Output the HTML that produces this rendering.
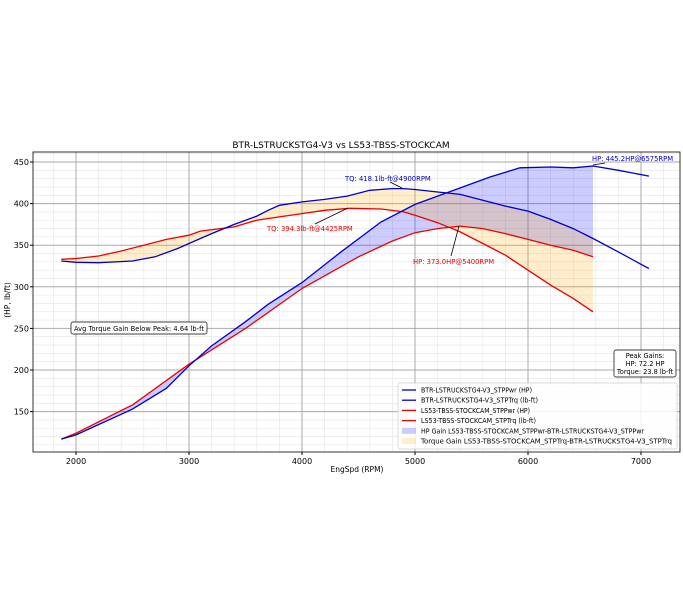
<!DOCTYPE html><html><head><meta charset="utf-8"><style>body{margin:0;background:#fff}svg{display:block;font-family:"DejaVu Sans","Liberation Sans",sans-serif}</style></head><body>
<svg id="s" width="683" height="615" xmlns="http://www.w3.org/2000/svg"></svg>
<script>
const X=r=>76+(r-2000)*0.113, Y=v=>162+(450-v)*0.832;
const L=33,R=680,T=152,B=452;
const bTQ=[[1870,331],[2000,329.5],[2200,329],[2500,331],[2700,336],[2900,346],[3000,352],[3200,364],[3400,375],[3600,385],[3700,392],[3800,398],[4000,402],[4200,405],[4400,409],[4600,416],[4800,418],[4900,418],[5000,417],[5200,414],[5400,411],[5600,404],[5800,397],[6000,391],[6200,381],[6400,370],[6575,358],[6800,342],[7000,327],[7070,322]];
const rTQ=[[1870,333],[2000,334],[2200,337],[2400,343],[2600,350],[2800,357],[3000,362],[3100,367],[3400,372],[3600,380],[3800,384],[4000,388],[4200,392],[4425,394.3],[4700,393.5],[4900,390],[5000,386],[5200,377],[5400,366],[5600,352],[5800,338],[6000,320],[6200,302],[6400,286],[6575,270]];
const rHP=[[1870,117],[2000,124],[2500,158],[3000,207],[3500,250],[4000,298],[4500,336],[4800,355],[5000,365],[5200,370],[5400,373],[5600,370],[5800,364],[6000,357],[6200,350],[6400,344],[6575,336]];
const bHP=[[1870,117],[2000,122],[2500,153],[2800,178],[3000,205],[3200,229],[3500,258],[3700,279],[4000,305],[4336,341],[4700,378],[5000,399],[5300,414],[5664,432],[5929,443],[6200,444],[6400,443],[6575,445.2],[6800,440],[7070,433]];
const pts=a=>a.map(p=>X(p[0]).toFixed(1)+','+Y(p[1]).toFixed(1)).join(' ');
const cut=a=>a.filter(p=>p[0]<=6575);
let h='';
h+=`<rect x="${L}" y="${T}" width="${R-L}" height="${B-T}" fill="#fff"/>`;
for(let r=1800;r<=7200;r+=200){if(r%1000)h+=`<line x1="${X(r)}" x2="${X(r)}" y1="${T}" y2="${B}" stroke="#e4e4e4" stroke-width="0.6"/>`;}
for(let v=110;v<=460;v+=10){if(v%50)h+=`<line x1="${L}" x2="${R}" y1="${Y(v)}" y2="${Y(v)}" stroke="#e4e4e4" stroke-width="0.6"/>`;}
for(let r=2000;r<=7000;r+=1000)h+=`<line x1="${X(r)}" x2="${X(r)}" y1="${T}" y2="${B}" stroke="#aaa" stroke-width="1"/><text x="${X(r)}" y="${B+12}" font-size="8" text-anchor="middle">${r}</text><line x1="${X(r)}" x2="${X(r)}" y1="${B}" y2="${B+3}" stroke="#000"/>`;
for(let v=150;v<=450;v+=50)h+=`<line x1="${L}" x2="${R}" y1="${Y(v)}" y2="${Y(v)}" stroke="#aaa" stroke-width="1"/><text x="${L-4}" y="${Y(v)+3}" font-size="8" text-anchor="end">${v}</text><line x1="${L-3}" x2="${L}" y1="${Y(v)}" y2="${Y(v)}" stroke="#000"/>`;
const fill=(a,b,c)=>`<polygon points="${pts(cut(a))} ${pts(cut(b).slice().reverse())}" fill="${c}"/>`;
h+=fill(bHP,rHP,'rgba(0,0,255,0.2)');
h+=fill(bTQ,rTQ,'rgba(255,165,0,0.2)');
h+=`<polyline points="${pts(rHP)}" fill="none" stroke="#e00" stroke-width="1.3"/><polyline points="${pts(rTQ)}" fill="none" stroke="#e00" stroke-width="1.3"/>`;
h+=`<polyline points="${pts(bHP)}" fill="none" stroke="#0000cc" stroke-width="1.3"/><polyline points="${pts(bTQ)}" fill="none" stroke="#0000cc" stroke-width="1.3"/>`;
h+=`<rect x="${L}" y="${T}" width="${R-L}" height="${B-T}" fill="none" stroke="#000" stroke-width="0.8"/>`;
h+=`<text x="341" y="148" font-size="9" text-anchor="middle">BTR-LSTRUCKSTG4-V3 vs LS53-TBSS-STOCKCAM</text>`;
h+=`<text x="357" y="472" font-size="7.5" text-anchor="middle">EngSpd (RPM)</text>`;
h+=`<text transform="translate(10,300) rotate(-90)" font-size="7.5" text-anchor="middle">(HP, lb/ft)</text>`;
h+=`<text x="345" y="181" font-size="6.8" fill="#0000cc">TQ: 418.1lb-ft@4900RPM</text><line x1="390" y1="182" x2="402" y2="188" stroke="#000" stroke-width="0.8"/>`;
h+=`<text x="267" y="231" font-size="6.8" fill="#e00">TQ: 394.3lb-ft@4425RPM</text><line x1="315" y1="224" x2="348" y2="208" stroke="#000" stroke-width="0.8"/>`;
h+=`<text x="413" y="264" font-size="6.8" fill="#e00">HP: 373.0HP@5400RPM</text><line x1="451" y1="256" x2="459" y2="226" stroke="#000" stroke-width="0.8"/>`;
h+=`<text x="592" y="161" font-size="6.8" fill="#0000cc">HP: 445.2HP@6575RPM</text><line x1="605" y1="163" x2="593" y2="165" stroke="#000" stroke-width="0.8"/>`;
h+=`<rect x="71" y="322" width="136" height="12" rx="2" fill="#fff" stroke="#000" stroke-width="0.7"/><text x="139" y="331" font-size="6.6" text-anchor="middle" textLength="130">Avg Torque Gain Below Peak: 4.64 lb-ft</text>`;
h+=`<rect x="614" y="350" width="62" height="27" rx="2" fill="#fff" stroke="#000" stroke-width="0.7"/><text font-size="6.6" text-anchor="middle"><tspan x="645" y="358">Peak Gains:</tspan><tspan x="645" y="366">HP: 72.2 HP</tspan><tspan x="645" y="374">Torque: 23.8 lb-ft</tspan></text>`;
h+=`<rect x="398" y="383" width="279" height="66" rx="2" fill="#fff" fill-opacity="0.85" stroke="#ccc" stroke-width="0.7"/>`;
const leg=[['l','#0000cc','BTR-LSTRUCKSTG4-V3_STPPwr (HP)',111],['l','#0000cc','BTR-LSTRUCKSTG4-V3_STPTrq (lb-ft)',117],['l','#e00','LS53-TBSS-STOCKCAM_STPPwr (HP)',109],['l','#e00','LS53-TBSS-STOCKCAM_STPTrq (lb-ft)',115],['f','rgba(0,0,255,0.2)','HP Gain LS53-TBSS-STOCKCAM_STPPwr-BTR-LSTRUCKSTG4-V3_STPPwr',223],['f','rgba(255,165,0,0.2)','Torque Gain LS53-TBSS-STOCKCAM_STPTrq-BTR-LSTRUCKSTG4-V3_STPTrq',251]];
leg.forEach((e,i)=>{const y=390+i*10.2;
 h+=e[0]=='l'?`<line x1="402" x2="416" y1="${y}" y2="${y}" stroke="${e[1]}" stroke-width="1.3"/>`:`<rect x="402" y="${y-3}" width="14" height="6" fill="${e[1]}"/>`;
 h+=`<text x="421" y="${y+2.5}" font-size="6.8" textLength="${e[3]}" lengthAdjust="spacingAndGlyphs">${e[2]}</text>`;});
document.getElementById('s').innerHTML=h;
</script></body></html>
